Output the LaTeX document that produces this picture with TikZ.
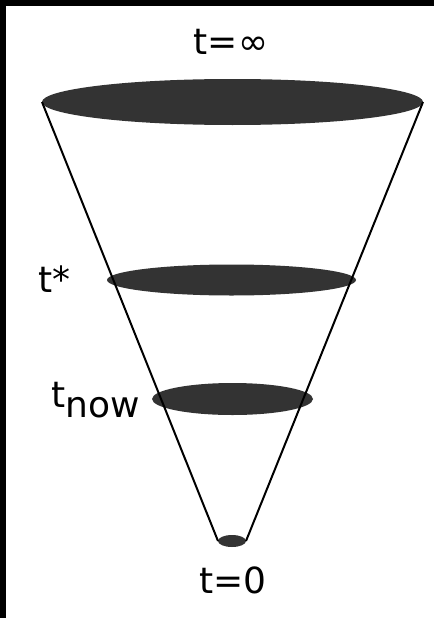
\documentclass[tikz,border=0pt]{standalone}
\usepackage{fontspec}
\setmainfont{DejaVu Sans}
\usetikzlibrary{shapes.geometric}
\definecolor{disc}{HTML}{333333}
\tikzset{
  x=1pt, y=-1pt,
  slice/.style={ellipse, fill=disc, draw=none, inner sep=0pt, outer sep=0pt},
  lbl/.style={inner sep=0pt, font=\fontsize{36}{40}\selectfont},
  cone/.style={draw=black, line width=2pt}
}
\begin{document}
\begin{tikzpicture}
\useasboundingbox (0,0) rectangle (434,618);
\fill[white] (0,0) rectangle (434,618);
\fill[black] (0,0) rectangle (434,6);
\fill[black] (0,0) rectangle (6,618);
\node[slice, minimum width=381pt, minimum height=46pt] (inf) at (232.5,102) {};
\node[slice, minimum width=249pt, minimum height=31pt] (star) at (231.5,280) {};
\node[slice, minimum width=161pt, minimum height=32pt] (now) at (232.5,399) {};
\node[slice, minimum width=28pt, minimum height=12pt] (zero) at (232,541) {};
\draw[cone] (inf.west) -- (zero.west);
\draw[cone] (inf.east) -- (zero.east);
\node[lbl, anchor=base] (linf) at (231,55) {t=∞};
\node[lbl, anchor=base west] (lstar) at (38,292) {t*};
\node[lbl, anchor=base west] (lnow) at (51,407) {t\raisebox{-10pt}{now}};
\node[lbl, anchor=base] (lzero) at (233,593) {t=0};
\end{tikzpicture}
\end{document}
